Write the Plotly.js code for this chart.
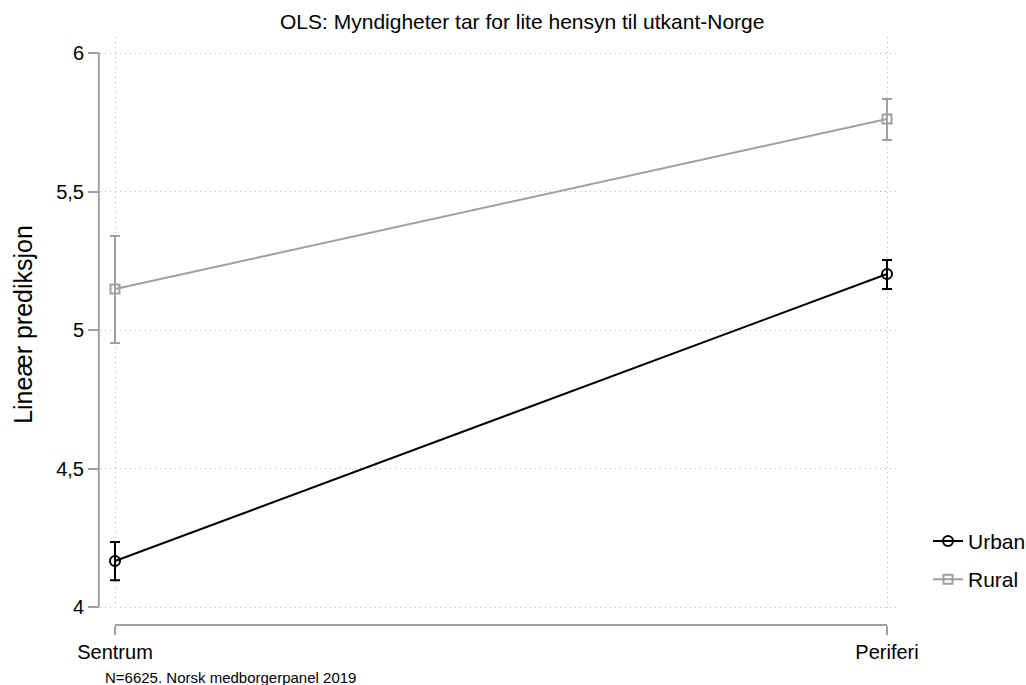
<!DOCTYPE html>
<html>
<head>
<meta charset="utf-8">
<script src="https://cdn.plot.ly/plotly-3.0.1.min.js"></script>
<style>html,body{margin:0;padding:0;background:#fff;}#chart{width:1026px;height:685px;}</style>
</head>
<body>
<div id="chart"></div>
<script>
const categories = ["Sentrum", "Periferi"];
const urbanValues = [4.166, 5.202];
const urbanUpper = [4.235, 5.253];
const urbanLower = [4.097, 5.148];
const ruralValues = [5.148, 5.762];
const ruralUpper = [5.339, 5.834];
const ruralLower = [4.953, 5.686];
const yTickVals = [4, 4.5, 5, 5.5, 6];
const yTickText = ["4", "4,5", "5", "5,5", "6"];

const xPos = categories.map((c, i) => i);
const font = "Liberation Sans, Arial, sans-serif";

function errs(vals, up, lo) {
  return {
    type: 'data', symmetric: false,
    array: up.map((u, i) => u - vals[i]),
    arrayminus: vals.map((v, i) => v - lo[i]),
    thickness: 2, width: 5
  };
}

const urban = {
  x: xPos, y: urbanValues, name: 'Urban', type: 'scatter', mode: 'lines+markers', legendgroup: 'u',
  line: {color: '#000000', width: 2},
  marker: {symbol: 'circle-open', size: 10, color: '#000000', line: {width: 2}},
  error_y: Object.assign(errs(urbanValues, urbanUpper, urbanLower), {color: '#000000'})
};
const rural = {
  x: xPos, y: ruralValues, name: 'Rural', type: 'scatter', mode: 'lines+markers', legendgroup: 'r',
  line: {color: '#a0a0a0', width: 2},
  marker: {symbol: 'square-open', size: 9, color: '#a0a0a0', line: {width: 2}},
  error_y: Object.assign(errs(ruralValues, ruralUpper, ruralLower), {color: '#a0a0a0'})
};

const gridDash = '1px,4px';

const layout = {
  width: 1026, height: 685,
  margin: {l: 100, r: 126, t: 37, b: 60, autoexpand: false},
  paper_bgcolor: '#ffffff', plot_bgcolor: '#ffffff',
  font: {family: font, color: '#000000', size: 20},
  title: {text: 'OLS: Myndigheter tar for lite hensyn til utkant-Norge', font: {family: font, size: 21, color: '#000000'},
          xref: 'container', x: 0.509, xanchor: 'center', yref: 'container', y: 0.968, yanchor: 'middle'},
  xaxis: {
    range: [-15/772, 1 + 13/772], anchor: 'free', position: 0,
    tickvals: xPos, ticktext: categories, ticks: 'outside', ticklen: 9, tickwidth: 2, tickcolor: '#a0a0a0',
    showline: false, zeroline: false, showgrid: true, griddash: gridDash, gridcolor: '#b4b4b4', gridwidth: 1,
    tickfont: {family: font, size: 20, color: '#000000'}
  },
  yaxis: {
    domain: [13/588, 1],
    range: [4 - 5/277, 6 + 16/277],
    tickvals: yTickVals, ticktext: yTickText, ticks: 'outside', ticklen: 11, tickwidth: 2, tickcolor: '#a0a0a0',
    showline: false, zeroline: false, showgrid: true, griddash: gridDash, gridcolor: '#b4b4b4', gridwidth: 1,
    tickfont: {family: font, size: 20, color: '#000000'},
    title: {text: 'Lineær prediksjon', font: {family: font, size: 25, color: '#000000'}, standoff: 16}
  },
  showlegend: true,
  legend: {x: 1.035, xanchor: 'left', y: 0.11, yanchor: 'middle', bgcolor: 'rgba(0,0,0,0)',
           traceorder: 'grouped', tracegroupgap: 8,
           font: {family: font, size: 21, color: '#000000'}},
  shapes: [
    {type: 'line', xref: 'paper', yref: 'y', x0: -0.0015, x1: -0.0015, y0: 4, y1: 6, line: {color: '#a0a0a0', width: 2}},
    {type: 'line', xref: 'x', yref: 'paper', x0: 0, x1: 1, y0: 0, y1: 0, line: {color: '#a0a0a0', width: 2}}
  ],
  annotations: [
    {text: 'N=6625. Norsk medborgerpanel 2019', xref: 'paper', yref: 'paper', x: 0.004, y: -0.0885,
     xanchor: 'left', yanchor: 'middle', showarrow: false, font: {family: font, size: 15, color: '#000000'}}
  ]
};

Plotly.newPlot('chart', [urban, rural], layout, {displayModeBar: false, staticPlot: true});
</script>
</body>
</html>
